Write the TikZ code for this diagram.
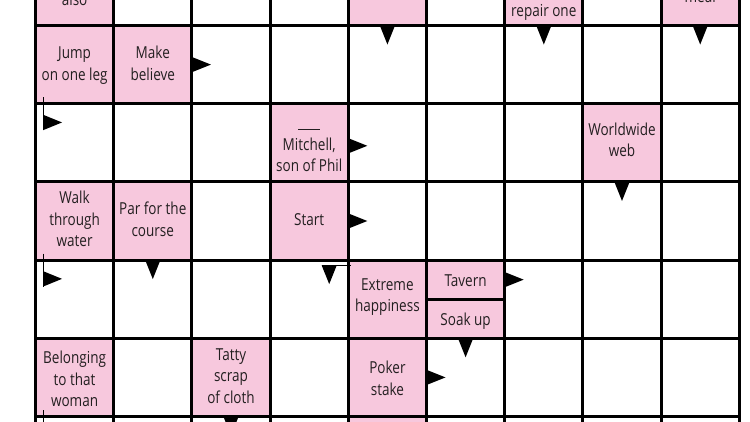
\documentclass[tikz,border=0pt]{standalone}
\usepackage{fontspec}
\setmainfont{Open Sans}[FakeStretch=0.82]
\definecolor{cluepink}{RGB}{247,200,221}
\definecolor{cluetext}{RGB}{35,31,32}
\newcommand\cluelines[1]{\begin{tabular}[t]{@{}c@{}}#1\end{tabular}}
\begin{document}
\begin{tikzpicture}[x=1bp,y=-1bp,
  cell/.style={rectangle, fill=cluepink, draw=none, inner sep=0pt, outer sep=0pt,
    minimum width=78.2bp, minimum height=78.2bp},
  halfcell/.style={cell, minimum height=39.1bp},
  words/.style={anchor=base, inner sep=0pt, outer sep=0pt, text=cluetext,
    font=\fontsize{16.5bp}{21.7bp}\selectfont},
  gridline/.style={line width=3bp, black},
  borderline/.style={line width=3.5bp, black},
  thinline/.style={line width=1bp, black},
  rarrow/.pic={\fill[black] (0,-7.6) -- (19,0) -- (0,7.6) -- cycle;},
  darrow/.pic={\fill[black] (-7.6,0) -- (0,19) -- (7.6,0) -- cycle;},
  bentright/.pic={\draw[thinline] (7.5,-6.5) -- (7.5,26.5);
    \fill[black] (7.5,11) -- (26.5,18.75) -- (7.5,26.5) -- cycle;},
  bentdown/.pic={\draw[thinline] (2.5,5) -- (-26.6,5);
    \fill[black] (-26.6,5.3) -- (-11.6,5.3) -- (-19.1,24) -- cycle;}
]
\useasboundingbox (0,0) rectangle (750,421);
\fill[white] (0,0) rectangle (750,421);
\clip (0,0) rectangle (750,421);

% pink clue cells
\node[cell] (also)   at (74.6,-13.6) {};
\node[cell] (topmid) at (387.4,-13.6) {};
\node[cell] (repair) at (543.8,-13.6) {};
\node[cell] (meal)   at (700.2,-13.6) {};
\node[cell] (jump)   at (74.6,64.6) {};
\node[cell] (make)   at (152.8,64.6) {};
\node[cell] (mitchell) at (309.2,142.8) {};
\node[cell] (worldwide) at (622.0,142.8) {};
\node[cell] (walk)   at (74.6,221.0) {};
\node[cell] (par)    at (152.8,221.0) {};
\node[cell] (start)  at (309.2,221.0) {};
\node[cell] (extreme) at (387.4,299.2) {};
\node[halfcell] (tavern) at (465.6,279.65) {};
\node[halfcell] (soak)   at (465.6,318.75) {};
\node[cell] (belonging) at (74.6,377.4) {};
\node[cell] (tatty)  at (231.0,377.4) {};
\node[cell] (poker)  at (387.4,377.4) {};
\node[cell] (bottommid) at (387.4,455.6) {};

% grid
\foreach \k in {1,...,8}
  \draw[gridline] (35.5+78.2*\k,-60) -- (35.5+78.2*\k,430);
\draw[borderline] (35.5,-60) -- (35.5,430);
\draw[borderline] (739.3,-60) -- (739.3,430);
\foreach \k in {0,...,6}
  \draw[gridline] (35.5,-52.7+78.2*\k) -- (739.3,-52.7+78.2*\k);
\draw[gridline] (tavern.south west) -- (tavern.south east);

% arrows
\pic at (topmid.south) {darrow};
\pic at (repair.south) {darrow};
\pic at (meal.south) {darrow};
\pic at (make.east) {rarrow};
\pic at ([yshift=-3bp]mitchell.east) {rarrow};
\pic at (worldwide.south) {darrow};
\pic at (par.south) {darrow};
\pic at (start.east) {rarrow};
\pic at (tavern.east) {rarrow};
\pic at (soak.south) {darrow};
\pic at (poker.east) {rarrow};
\pic at (tatty.south) {darrow};
\pic at (jump.south west) {bentright};
\pic at (walk.south west) {bentright};
\pic at (belonging.south west) {bentright};
\pic at (extreme.north west) {bentdown};

% clue texts
\node[words] (alsoT) at (74.6,5) {\cluelines{also}};
\node[words] (repairT) at (543.8,16.5) {\cluelines{repair one}};
\node[words] (mealT) at (700.2,2) {\cluelines{meal}};
\node[words] (jumpT) at (74.6,58.5) {\cluelines{Jump\\on one leg}};
\node[words] (makeT) at (152.8,58.5) {\cluelines{Make\\believe}};
\node[words] (mitchellT) at (309.2,128.3) {\cluelines{\rule[-1.5bp]{22bp}{1bp}\\Mitchell,\\son of Phil}};
\node[words] (worldwideT) at (622.0,135) {\cluelines{Worldwide\\web}};
\node[words] (walkT) at (74.6,203.3) {\cluelines{Walk\\through\\water}};
\node[words] (parT) at (152.8,214.3) {\cluelines{Par for the\\course}};
\node[words] (startT) at (309.2,225) {\cluelines{Start}};
\node[words] (extremeT) at (387.4,290) {\cluelines{Extreme\\happiness}};
\node[words] (tavernT) at (465.6,286.7) {\cluelines{Tavern}};
\node[words] (soakT) at (465.6,325) {\cluelines{Soak up}};
\node[words] (belongingT) at (74.6,363.3) {\cluelines{Belonging\\to that\\woman}};
\node[words] (tattyT) at (231.0,360) {\cluelines{Tatty\\scrap\\of cloth}};
\node[words] (pokerT) at (387.4,373.3) {\cluelines{Poker\\stake}};
\end{tikzpicture}
\end{document}
